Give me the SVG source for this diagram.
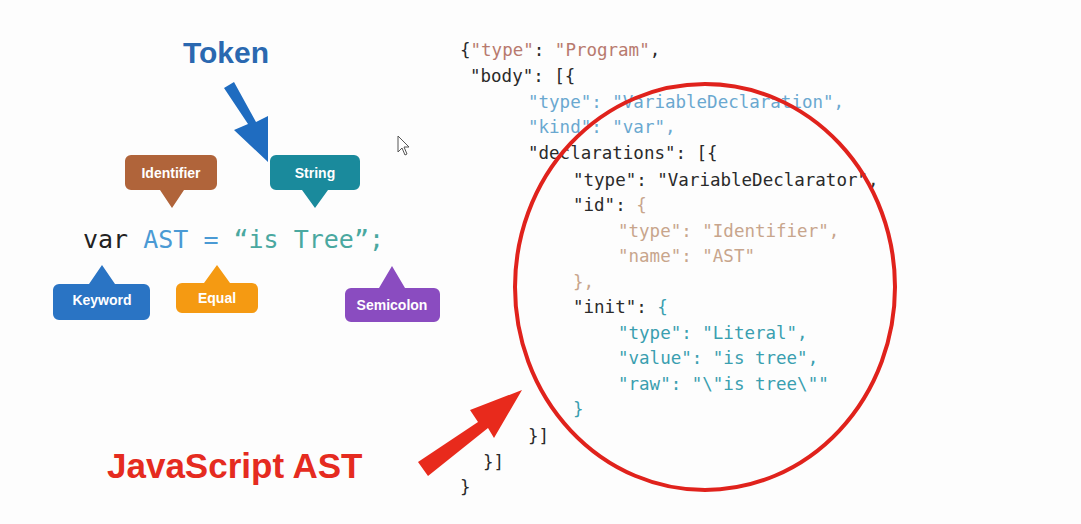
<svg xmlns="http://www.w3.org/2000/svg" width="1081" height="524" viewBox="0 0 1081 524">
<style>
.code{font-family:"DejaVu Sans Mono","Liberation Mono",monospace;font-size:17.5px}
.lbl{font-family:"Liberation Sans",Arial,sans-serif;font-weight:bold;font-size:14px;fill:#fff;text-anchor:middle}
.dk{fill:#2a2a2a}.pr{fill:#b87a6e}.lb{fill:#6aa8d0}.tn{fill:#c8a58c}.tl{fill:#3a9fb0}
</style>
<rect width="1081" height="524" fill="#fdfdfd"/>
<g id="token-title">
<text x="226" y="63" font-family="Liberation Sans,Arial,sans-serif" font-weight="bold" font-size="30" fill="#2a68b0" text-anchor="middle">Token</text>
</g>
<g id="connectors">
<path d="M224,88 L248,124 L234,130 L268,162 L268,116 L256,122 L234,82 Z" fill="#1f6cc0"/>
<path d="M418,462 L478,422 L470,410 L522,390 L494,438 L488,428 L428,476 Z" fill="#e82a1c"/>
</g>
<g id="identifier"><path d="M131,155 H211 a6,6 0 0 1 6,6 V184 a6,6 0 0 1 -6,6 H184 L172,208 L160,190 H131 a6,6 0 0 1 -6,-6 V161 a6,6 0 0 1 6,-6 Z" fill="#b0643a"/><text class="lbl" x="171" y="178">Identifier</text></g>
<g id="string"><path d="M276,155 H354 a6,6 0 0 1 6,6 V184 a6,6 0 0 1 -6,6 H328 L315,208 L302,190 H276 a6,6 0 0 1 -6,-6 V161 a6,6 0 0 1 6,-6 Z" fill="#1a8a9c"/><text class="lbl" x="315" y="178">String</text></g>
<g id="code-line">
<text x="83" y="248" font-family="DejaVu Sans Mono,monospace" font-size="25"><tspan fill="#222">var</tspan><tspan fill="#4a9ad4"> AST = </tspan><tspan fill="#4aa8a0">“is Tree”;</tspan></text>
</g>
<g id="keyword"><path d="M59,284 H89 L102,265 L115,284 H144 a6,6 0 0 1 6,6 V314 a6,6 0 0 1 -6,6 H59 a6,6 0 0 1 -6,-6 V290 a6,6 0 0 1 6,-6 Z" fill="#2a74c4"/><text class="lbl" x="102" y="305">Keyword</text></g>
<g id="equal"><path d="M182,283 H204 L217,265 L230,283 H252 a6,6 0 0 1 6,6 V307 a6,6 0 0 1 -6,6 H182 a6,6 0 0 1 -6,-6 V289 a6,6 0 0 1 6,-6 Z" fill="#f59a12"/><text class="lbl" x="217" y="303">Equal</text></g>
<g id="semicolon"><path d="M351,288 H379 L392,266 L405,288 H434 a6,6 0 0 1 6,6 V316 a6,6 0 0 1 -6,6 H351 a6,6 0 0 1 -6,-6 V294 a6,6 0 0 1 6,-6 Z" fill="#8a4cc0"/><text class="lbl" x="392" y="310">Semicolon</text></g>
<g id="cursor"><path d="M398,136 V152 L402,148 L405,155 L407,154 L404,147 L409,147 Z" fill="#fff" stroke="#555" stroke-width="1"/></g>
<g id="json">
<text class="code" x="460" y="56"><tspan class="dk">{</tspan><tspan class="pr">"type"</tspan><tspan class="dk">: </tspan><tspan class="pr">"Program"</tspan><tspan class="dk">,</tspan></text>
<text class="code dk" x="470" y="82">"body": [{</text>
<text class="code lb" x="528" y="108">"type": "VariableDeclaration",</text>
<text class="code lb" x="528" y="133">"kind": "var",</text>
<text class="code dk" x="528" y="159">"declarations": [{</text>
<text class="code dk" x="573" y="186">"type": "VariableDeclarator",</text>
<text class="code dk" x="573" y="211">"id": <tspan class="tn">{</tspan></text>
<text class="code tn" x="618" y="237">"type": "Identifier",</text>
<text class="code tn" x="618" y="262">"name": "AST"</text>
<text class="code tn" x="573" y="288">},</text>
<text class="code dk" x="573" y="313">"init": <tspan class="tl">{</tspan></text>
<text class="code tl" x="618" y="339">"type": "Literal",</text>
<text class="code tl" x="618" y="364">"value": "is tree",</text>
<text class="code tl" x="618" y="390">"raw": "\"is tree\""</text>
<text class="code tl" x="573" y="415">}</text>
<text class="code dk" x="528" y="442">}]</text>
<text class="code dk" x="483" y="468">}]</text>
<text class="code dk" x="460" y="493">}</text>
</g>
<g id="circle"><ellipse cx="705" cy="287" rx="190" ry="203" fill="none" stroke="#e0221c" stroke-width="4"/></g>
<g id="ast-label"><text x="107" y="478" font-family="Liberation Sans,Arial,sans-serif" font-weight="bold" font-size="35" fill="#e52b20">JavaScript AST</text></g>
</svg>
